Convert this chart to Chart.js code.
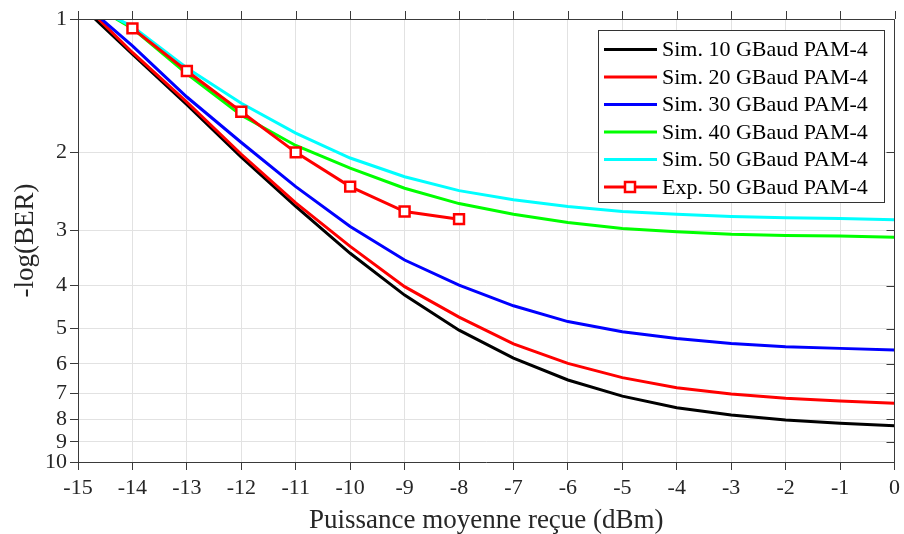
<!DOCTYPE html>
<html>
<head>
<meta charset="utf-8">
<script src="https://cdn.jsdelivr.net/npm/chart.js@4.4.0/dist/chart.umd.min.js"></script>
<style>
  body { margin: 0; background: #fff; }
  canvas { display: block; }
</style>
</head>
<body>
<canvas id="berChart" width="904" height="534"></canvas>
<script>
// puissance reçue (dBm)
const powers = [-15, -14, -13, -12, -11, -10, -9, -8, -7, -6, -5, -4, -3, -2, -1, 0];
const sim10 = [0.92, 1.20, 1.56, 2.05, 2.65, 3.38, 4.20, 5.04, 5.83, 6.53, 7.10, 7.54, 7.83, 8.04, 8.18, 8.28];
const sim20 = [0.90, 1.19, 1.54, 2.02, 2.60, 3.26, 4.02, 4.71, 5.41, 5.99, 6.45, 6.80, 7.02, 7.18, 7.28, 7.37];
const sim30 = [0.90, 1.15, 1.50, 1.90, 2.39, 2.94, 3.50, 3.99, 4.44, 4.82, 5.08, 5.26, 5.40, 5.49, 5.54, 5.59];
const sim40 = [0.89, 1.05, 1.33, 1.65, 1.93, 2.17, 2.41, 2.61, 2.76, 2.88, 2.97, 3.02, 3.06, 3.08, 3.09, 3.11];
const sim50 = [0.90, 1.04, 1.29, 1.55, 1.81, 2.06, 2.27, 2.44, 2.56, 2.65, 2.72, 2.76, 2.79, 2.81, 2.82, 2.84];

// mesures 50 GBaud
const expPowers = [-14, -13, -12, -11, -10, -9, -8];
const exp50 = [1.05, 1.31, 1.62, 2.00, 2.39, 2.72, 2.83];

const yTicks = [1, 2, 3, 4, 5, 6, 7, 8, 9, 10];
const seriesLabels = [
    'Sim. 10 GBaud PAM-4',
    'Sim. 20 GBaud PAM-4',
    'Sim. 30 GBaud PAM-4',
    'Sim. 40 GBaud PAM-4',
    'Sim. 50 GBaud PAM-4',
    'Exp. 50 GBaud PAM-4'
];

const serif = "'Liberation Serif', 'Times New Roman', serif";
const axisColor = '#3a3a3a';
const gridColor = '#e2e2e2';

function toPoints(xs, ys) {
    return xs.map((x, i) => ({ x: x, y: ys[i] }));
}

function simLine(label, values, color, order) {
    return {
        label: label,
        data: toPoints(powers, values),
        borderColor: color,
        backgroundColor: color,
        borderWidth: 3,
        pointRadius: 0,
        tension: 0,
        clip: 0,
        order: order
    };
}

// cadre (haut/droite) + ticks + légende dans la zone du graphe
const framePlugin = {
    id: 'frame',
    beforeDraw(chart) {
        const ctx = chart.ctx;
        ctx.save();
        ctx.fillStyle = '#fff';
        ctx.fillRect(0, 0, chart.width, chart.height);
        ctx.restore();
    },
    afterDraw(chart) {
        const { ctx, chartArea: a, scales } = chart;
        ctx.save();
        ctx.strokeStyle = axisColor;
        ctx.lineWidth = 1;
        ctx.beginPath();
        ctx.moveTo(Math.round(a.left) + 0.5, Math.round(a.top) + 0.5);
        ctx.lineTo(Math.round(a.right) - 0.5, Math.round(a.top) + 0.5);
        ctx.lineTo(Math.round(a.right) - 0.5, Math.round(a.bottom));
        // ticks en haut (vers l'extérieur)
        scales.x.ticks.forEach(t => {
            const px = Math.round(scales.x.getPixelForValue(t.value)) + 0.5;
            ctx.moveTo(px, a.top);
            ctx.lineTo(px, a.top - 8);
        });
        // ticks à droite (vers l'intérieur)
        scales.y.ticks.forEach(t => {
            const py = Math.round(scales.y.getPixelForValue(t.value)) + 0.5;
            ctx.moveTo(a.right, py);
            ctx.lineTo(a.right - 8, py);
        });
        ctx.stroke();

        // légende
        const box = { x: 598.5, y: 30.5, w: 286, h: 172 };
        ctx.fillStyle = '#fff';
        ctx.fillRect(box.x, box.y, box.w, box.h);
        ctx.strokeStyle = '#333';
        ctx.strokeRect(box.x, box.y, box.w, box.h);
        ctx.font = '22px ' + serif;
        ctx.textBaseline = 'middle';
        ctx.textAlign = 'left';
        chart.data.datasets.forEach((ds, i) => {
            const yy = 49.5 + i * 27.5;
            ctx.strokeStyle = ds.borderColor;
            ctx.lineWidth = 3;
            ctx.beginPath();
            ctx.moveTo(604, yy);
            ctx.lineTo(657, yy);
            ctx.stroke();
            if (ds.pointRadius > 0) {
                ctx.fillStyle = '#fff';
                ctx.lineWidth = 2.5;
                ctx.fillRect(625, yy - 5, 10, 10);
                ctx.strokeRect(625, yy - 5, 10, 10);
            }
            ctx.fillStyle = '#000';
            ctx.fillText(ds.label, 662, yy + 1);
        });
        ctx.restore();
    }
};

const ctx = document.getElementById('berChart').getContext('2d');

new Chart(ctx, {
    type: 'line',
    data: {
        datasets: [
            simLine(seriesLabels[0], sim10, '#000000', 6),
            simLine(seriesLabels[1], sim20, '#ff0000', 5),
            simLine(seriesLabels[2], sim30, '#0000ff', 4),
            simLine(seriesLabels[3], sim40, '#00ff00', 3),
            simLine(seriesLabels[4], sim50, '#00ffff', 2),
            {
                label: seriesLabels[5],
                data: toPoints(expPowers, exp50),
                borderColor: '#ff0000',
                backgroundColor: '#ffffff',
                borderWidth: 3,
                pointStyle: 'rect',
                pointRadius: 7,
                pointBorderWidth: 2.5,
                pointBorderColor: '#ff0000',
                pointBackgroundColor: '#ffffff',
                tension: 0,
                clip: 0,
                order: 1
            }
        ]
    },
    options: {
        responsive: false,
        animation: false,
        layout: { padding: { left: 0, top: 19, right: 7, bottom: 0 } },
        plugins: {
            legend: { display: false },
            tooltip: { enabled: false }
        },
        scales: {
            x: {
                type: 'linear',
                min: -15,
                max: 0,
                afterFit: s => {
                    s.height = 72;
                    s.paddingLeft = 0;
                    s.paddingRight = 0;
                },
                ticks: {
                    stepSize: 1,
                    padding: 5,
                    color: '#262626',
                    font: { family: serif, size: 22 }
                },
                grid: { color: gridColor, tickColor: axisColor, tickLength: 8 },
                border: { color: axisColor },
                title: {
                    display: true,
                    text: 'Puissance moyenne reçue (dBm)',
                    color: '#262626',
                    padding: 0,
                    font: { family: serif, size: 27, lineHeight: 1 }
                }
            },
            y: {
                type: 'logarithmic',
                reverse: true,
                min: 1,
                max: 10,
                afterFit: s => {
                    s.width = 78;
                    s.paddingTop = 0;
                    s.paddingBottom = 0;
                },
                afterBuildTicks: s => { s.ticks = yTicks.map(v => ({ value: v })); },
                ticks: {
                    padding: 3,
                    color: '#262626',
                    font: { family: serif, size: 22 },
                    callback: v => String(v)
                },
                grid: { color: gridColor, tickColor: axisColor, tickLength: 8 },
                border: { color: axisColor },
                title: {
                    display: true,
                    text: '-log(BER)',
                    color: '#262626',
                    padding: 12,
                    font: { family: serif, size: 27, lineHeight: 1 }
                }
            }
        }
    },
    plugins: [framePlugin]
});
</script>
</body>
</html>
